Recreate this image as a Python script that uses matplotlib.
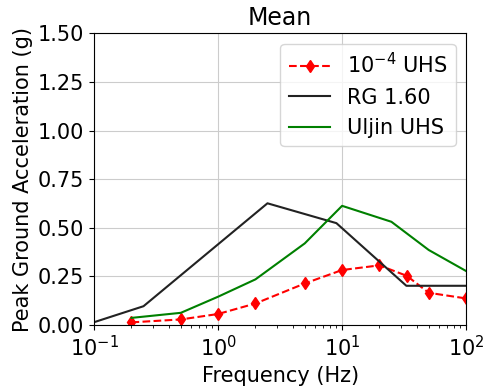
import matplotlib

matplotlib.use("Agg")

import matplotlib.pyplot as plt

# 1e-4 UHS
uhs_freq = [0.2, 0.5, 1, 2, 5, 10, 20, 33.3, 50, 100]
uhs_pga = [0.014, 0.029, 0.057, 0.111, 0.214, 0.283, 0.307, 0.253, 0.166, 0.137]

# RG 1.60 spectrum
rg_freq = [0.1, 0.25, 2.5, 9, 33, 100]
rg_pga = [0.015, 0.097, 0.626, 0.524, 0.202, 0.202]

# Uljin UHS
uljin_freq = [0.2, 0.5, 1, 2, 5, 10, 25, 50, 100]
uljin_pga = [0.037, 0.063, 0.146, 0.235, 0.42, 0.613, 0.531, 0.386, 0.278]

fig = plt.figure(figsize=(4.88, 3.87), dpi=100)
ax = fig.add_axes([0.193, 0.160, 0.762, 0.754])

ax.plot(uhs_freq, uhs_pga, "r--d", markersize=6, label=r"$10^{-4}$ UHS")
ax.plot(rg_freq, rg_pga, color="#222222", label="RG 1.60")
ax.plot(uljin_freq, uljin_pga, color="green", label="Uljin UHS")

ax.set_xscale("log")
ax.set_xlim(0.1, 100)
ax.set_ylim(0, 1.5)
ax.set_yticks([0, 0.25, 0.5, 0.75, 1.0, 1.25, 1.5])
ax.grid(True, which="major", color="#cccccc")
ax.tick_params(labelsize=15)

ax.set_xlabel("Frequency (Hz)", fontsize=15)
ax.set_ylabel("Peak Ground Acceleration (g)", fontsize=15)
ax.set_title("Mean", fontsize=17)
ax.legend(loc="upper right", fontsize=15)

fig.savefig("out.png", dpi=100)
